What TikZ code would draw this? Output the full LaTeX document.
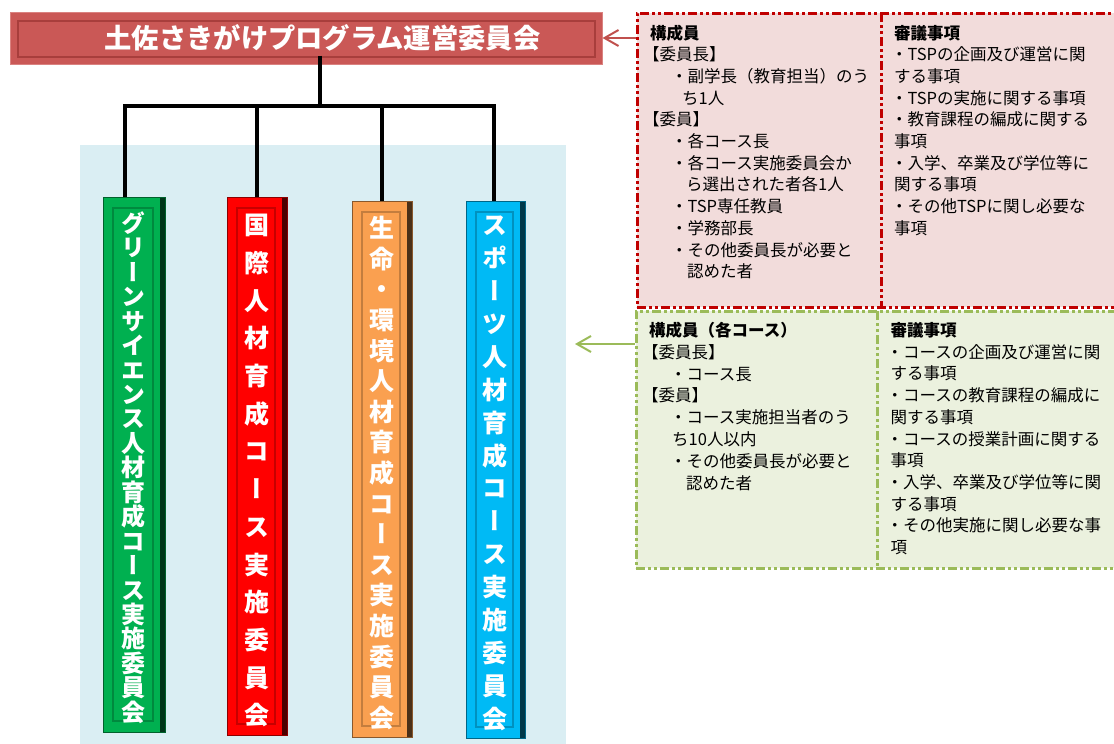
\documentclass[tikz,border=0pt]{standalone}
\usepackage{fontspec}
\setmainfont{Noto Sans CJK JP}
\newfontfamily\vfont[RawFeature=+vert]{Noto Sans CJK JP}
\usetikzlibrary{arrows.meta}
\definecolor{bgblue}{RGB}{218,238,243}
\definecolor{titlefill}{RGB}{202,88,86}
\definecolor{titleedge}{RGB}{218,130,128}
\definecolor{titleinner}{RGB}{168,62,60}
\definecolor{rfill}{RGB}{242,220,219}
\definecolor{rline}{RGB}{192,0,0}
\definecolor{rarrowc}{RGB}{192,80,77}
\definecolor{gfill}{RGB}{235,241,222}
\definecolor{gline}{RGB}{155,187,89}
\definecolor{cgreen}{RGB}{0,176,80}
\definecolor{cred}{RGB}{255,0,0}
\definecolor{corange}{RGB}{250,160,80}
\definecolor{cblue}{RGB}{0,186,245}
\ExplSyntaxOn
\NewDocumentCommand\vtxt{mm}
 {
  \vbox:n
   {
    \skip_set:Nn \baselineskip {#1}
    \dim_set:Nn \lineskiplimit {-\c_max_dim}
    \tl_map_inline:nn {#2} { \hbox_to_wd:nn {0pt} { \hss \rule{0pt}{23pt} ##1 \hss } }
   }
 }
\ExplSyntaxOff
\newcommand\tline[2]{\hbox{\kern#1\rule{0pt}{16pt}#2}}
\newcommand\tblock[2]{\vbox{\baselineskip=#1\relax\lineskiplimit=-\maxdimen\relax #2}}
\begin{document}
\begin{tikzpicture}[x=1pt,y=-1pt,
  conn/.style={line width=3.5pt, black},
  titlebox/.style={rectangle, inner sep=0pt, fill=titlefill, draw=titleedge, line width=1pt,
    text=white, font=\bfseries\fontsize{27.3pt}{30pt}\selectfont,
    path picture={
      \draw[titleinner, line width=1.4pt]
        ([xshift=8pt,yshift=-9pt]path picture bounding box.north west) rectangle
        ([xshift=-7pt,yshift=7pt]path picture bounding box.south east);
    }},
  bar/.style={rectangle, inner sep=0pt, fill=#1, draw=#1!55!black, line width=0.8pt,
    path picture={
      \fill[#1!30!black] ([xshift=-5pt]path picture bounding box.north east) rectangle (path picture bounding box.south east);
      \draw[#1!78!black, line width=1.4pt]
        ([xshift=10pt,yshift=-11pt]path picture bounding box.north west) rectangle
        ([xshift=-12pt,yshift=11pt]path picture bounding box.south east);
    }},
  bartext/.style={anchor=north, inner sep=0pt, text=white, font=\vfont\bfseries\fontsize{#1}{#1}\selectfont},
  bartext/.default=25pt,
  infobox/.style={rectangle, inner sep=0pt, fill=#1fill, draw=#1line, line width=3pt,
    dash pattern=on 9pt off 3pt on 3pt off 3pt on 3pt off 3pt},
  divider/.style={draw=#1line, line width=3pt, dash pattern=on 9pt off 3pt on 3pt off 3pt on 3pt off 3pt},
  infotext/.style={anchor=north west, inner sep=0pt, text=black, font=\fontsize{16.5pt}{21.7pt}\selectfont},
  linkarrow/.style={draw=#1, line width=2pt, -{Straight Barb[length=14pt,width=16pt,line width=2pt]}}
]
\useasboundingbox (0,0) rectangle (1114,744);
\clip (0,0) rectangle (1114,744);
\fill[white] (0,0) rectangle (1114,744);

% light blue background
\fill[bgblue] (80,145) rectangle (566,744);

% title
\node[titlebox, minimum width=592pt, minimum height=52pt] (title) at (306,38)
  {\hspace*{33pt}土佐さきがけプログラム運営委員会};

% course bars
\node[bar=cgreen,  minimum width=62pt, minimum height=535pt] (green)  at (134,464.5) {};
\node[bar=cred,    minimum width=60pt, minimum height=538pt] (red)    at (257,466) {};
\node[bar=corange, minimum width=60pt, minimum height=536pt] (orange) at (382,469) {};
\node[bar=cblue,   minimum width=59pt, minimum height=537pt] (blue)   at (495.5,469.5) {};

\node[bartext=24pt] (gt) at (133,209.1) {\vtxt{24.45pt}{グリーンサイエンス人材育成コース実施委員会}};
\node[bartext] (rt) at (257,211.5) {\vtxt{37.7pt}{国際人材育成コース実施委員会}};
\node[bartext] (ot) at (382,214.5) {\vtxt{30.6pt}{生命・環境人材育成コース実施委員会}};
\node[bartext] (bt) at (495,211.5) {\vtxt{32.9pt}{スポーツ人材育成コース実施委員会}};

% connectors
\coordinate (hub) at (320,106);
\coordinate (gdrop) at ([xshift=-9pt]green.north);
\coordinate (bdrop) at ([xshift=-1.5pt]blue.north);
\draw[conn] ([yshift=9pt]title.south -| hub) -- (hub);
\draw[conn] (gdrop) -- (gdrop |- hub) -- (bdrop |- hub) -- (bdrop);
\draw[conn] (red.north) -- (red.north |- hub);
\draw[conn] (orange.north) -- (orange.north |- hub);

% red info box
\node[infobox=r, minimum width=483pt, minimum height=294pt] (rbox) at (878.5,160) {};
\draw[divider=r] (881,13) -- (881,307);
\node[infotext] (rleft) at (650,22.8) {\tblock{21.7pt}{%
  \tline{0pt}{\bfseries 構成員}
  \tline{-7pt}{【委員長】}
  \tline{21pt}{・副学長（教育担当）のう}
  \tline{32pt}{ち1人}
  \tline{-7pt}{【委員】}
  \tline{21pt}{・各コース長}
  \tline{21pt}{・各コース実施委員会か}
  \tline{36pt}{ら選出された者各1人}
  \tline{21pt}{・TSP専任教員}
  \tline{21pt}{・学務部長}
  \tline{21pt}{・その他委員長が必要と}
  \tline{37pt}{認めた者}}};
\node[infotext] (rright) at (894,22.8) {\tblock{21.7pt}{%
  \tline{0pt}{\bfseries 審議事項}
  \tline{-3pt}{・TSPの企画及び運営に関}
  \tline{0pt}{する事項}
  \tline{-3pt}{・TSPの実施に関する事項}
  \tline{-3pt}{・教育課程の編成に関する}
  \tline{0pt}{事項}
  \tline{-3pt}{・入学、卒業及び学位等に}
  \tline{0pt}{関する事項}
  \tline{-3pt}{・その他TSPに関し必要な}
  \tline{0pt}{事項}}};

% green info box
\node[infobox=g, minimum width=484pt, minimum height=257pt] (gbox) at (878,439.5) {};
\draw[divider=g] (877,311) -- (877,568);
\node[infotext] (gleft) at (649,320.3) {\tblock{21.8pt}{%
  \tline{0pt}{\bfseries 構成員（各コース）}
  \tline{-7pt}{【委員長】}
  \tline{21pt}{・コース長}
  \tline{-7pt}{【委員】}
  \tline{21pt}{・コース実施担当者のう}
  \tline{23pt}{ち10人以内}
  \tline{21pt}{・その他委員長が必要と}
  \tline{37pt}{認めた者}}};
\node[infotext] (gright) at (890.5,320.3) {\tblock{21.7pt}{%
  \tline{0pt}{\bfseries 審議事項}
  \tline{-4pt}{・コースの企画及び運営に関}
  \tline{0pt}{する事項}
  \tline{-4pt}{・コースの教育課程の編成に}
  \tline{0pt}{関する事項}
  \tline{-4pt}{・コースの授業計画に関する}
  \tline{0pt}{事項}
  \tline{-4pt}{・入学、卒業及び学位等に関}
  \tline{0pt}{する事項}
  \tline{-4pt}{・その他実施に関し必要な事}
  \tline{0pt}{項}}};

% arrows
\draw[linkarrow=rarrowc] (rbox.west |- title.east) -- (title.east);
\coordinate (gtip) at (575,344);
\draw[linkarrow=gline] (gbox.west |- gtip) -- (gtip);
\end{tikzpicture}
\end{document}
